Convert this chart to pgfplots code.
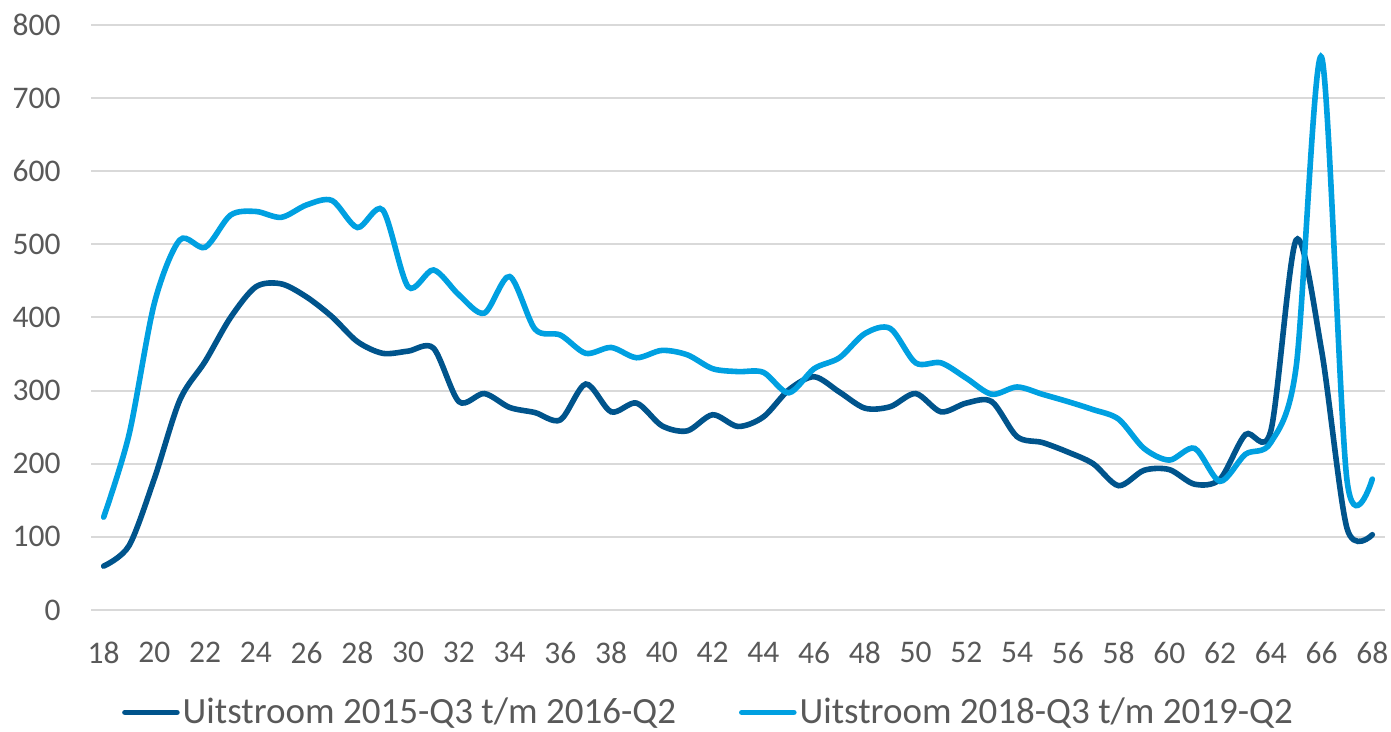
\documentclass[border=0pt]{standalone}
\usepackage{pgfplots}
\pgfplotsset{compat=1.18}
\usepackage{fontspec}
\setmainfont{Carlito}

\definecolor{donker}{RGB}{0,84,140}
\definecolor{licht}{RGB}{0,160,225}
\definecolor{raster}{RGB}{217,217,217}
\definecolor{tekst}{RGB}{89,89,89}

\begin{document}
\begin{tikzpicture}
  % 1 px van het origineel = 0.5pt
  \path[use as bounding box] (-45.5pt,-61pt) rectangle (650pt,305pt);
  \begin{axis}[
      at={(0pt,0pt)}, anchor=south west,
      scale only axis,
      width=647pt, height=292.5pt,
      xmin=17.5, xmax=68.5,
      ymin=0, ymax=800,
      xtick={18,20,...,68},
      ytick={0,100,...,800},
      axis line style={draw=none},
      ymajorgrids,
      grid style={raster, line width=1pt},
      major tick length=0pt,
      tick style={draw=none},
      /pgf/number format/assume math mode=true,
      tick label style={font=\fontsize{15.75}{18}\selectfont, text=tekst, inner sep=0pt},
      xticklabel style={anchor=north, yshift=-16pt},
      yticklabel style={anchor=east, xshift=-15pt},
      legend columns=2,
      legend style={
        at={(0.4776,-0.175)}, anchor=center,
        draw=none, fill=none,
        font=\fontsize{18.5}{22}\selectfont, text=tekst,
        nodes={inner sep=1.5pt},
        /tikz/every even column/.append style={column sep=30pt},
      },
      legend image code/.code={
        \draw[#1, line cap=round] (0pt,0pt) -- (26pt,0pt);
      },
    ]
    \addplot[donker, line width=2.8pt, smooth, tension=0.5, line cap=round] coordinates {
      (18,60) (19,88) (20,180) (21,287) (22,340) (23,400) (24,442) (25,446)
      (26,428) (27,401) (28,367) (29,351) (30,354) (31,358) (32,285) (33,296)
      (34,277) (35,270) (36,260) (37,309) (38,271) (39,283) (40,252) (41,245)
      (42,267) (43,251) (44,264) (45,301) (46,319) (47,298) (48,276) (49,278)
      (50,296) (51,271) (52,283) (53,285) (54,237) (55,229) (56,216) (57,200)
      (58,170) (59,191) (60,192) (61,172) (62,179) (63,240) (64,245) (65,506)
      (66,355) (67,112) (68,103)
    };
    \addlegendentry{Uitstroom 2015-Q3 t/m 2016-Q2}
    \addplot[licht, line width=2.8pt, smooth, tension=0.5, line cap=round] coordinates {
      (18,127) (19,240) (20,420) (21,506) (22,496) (23,540) (24,545) (25,537)
      (26,554) (27,560) (28,523) (29,547) (30,442) (31,465) (32,431) (33,406)
      (34,456) (35,384) (36,376) (37,351) (38,359) (39,345) (40,355) (41,349)
      (42,330) (43,326) (44,325) (45,297) (46,330) (47,345) (48,378) (49,385)
      (50,338) (51,338) (52,317) (53,295) (54,305) (55,295) (56,285) (57,274)
      (58,261) (59,221) (60,205) (61,221) (62,176) (63,213) (64,229) (65,333)
      (66,756) (67,178) (68,179)
    };
    \addlegendentry{Uitstroom 2018-Q3 t/m 2019-Q2}
  \end{axis}
\end{tikzpicture}
\end{document}
